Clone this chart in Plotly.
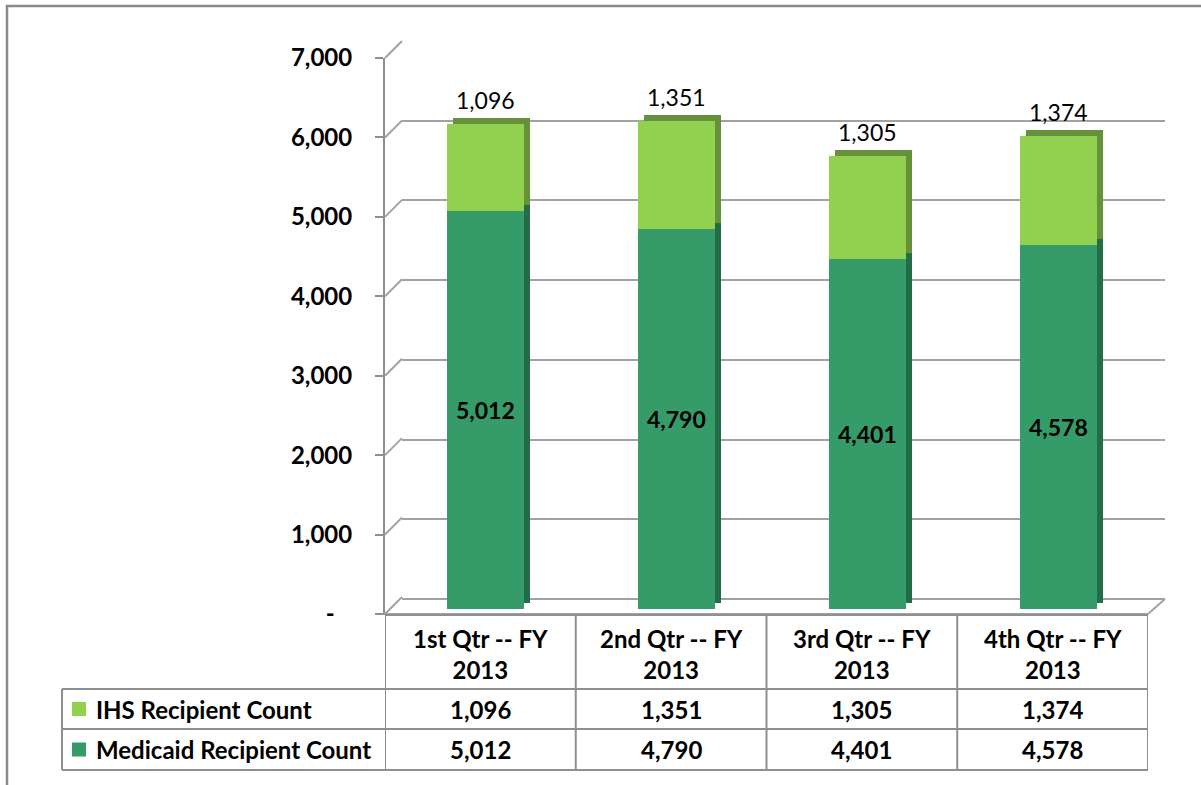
import plotly.graph_objects as go

# ---- data ----
categories = ["1st Qtr -- FY 2013", "2nd Qtr -- FY 2013", "3rd Qtr -- FY 2013", "4th Qtr -- FY 2013"]
ihs_counts = [1096, 1351, 1305, 1374]
medicaid_counts = [5012, 4790, 4401, 4578]
series_names = ["IHS Recipient Count", "Medicaid Recipient Count"]
tick_values = [0, 1000, 2000, 3000, 4000, 5000, 6000, 7000]
tick_labels = ["-\u00a0\u00a0\u00a0", "1,000", "2,000", "3,000", "4,000", "5,000", "6,000", "7,000"]

# ---- style ----
W, H = 1201, 785
C_IHS = "#92d050"
C_IHS_DARK = "#66913a"
C_MED = "#359b69"
C_MED_DARK = "#246c48"
GRID = "#a2a2a2"
LINE = "#8f8f8f"
FONT = "Lato"
FS = 24
FS_LBL = 23


def X(px):
    return px / W


def Y(py):
    return 1 - py / H


def fmt(v):
    return f"{v:,}"


totals = [a + b for a, b in zip(ihs_counts, medicaid_counts)]

fig = go.Figure()

# invisible traces to anchor front axis (xy) and back wall (x2y2)
for xa, ya in [("x", "y"), ("x2", "y2")]:
    fig.add_trace(go.Scatter(x=categories, y=medicaid_counts, mode="markers",
                             marker=dict(opacity=0), hoverinfo="skip",
                             showlegend=False, xaxis=xa, yaxis=ya))

# 3D depth (shadow) bars on x3y3
fig.add_trace(go.Bar(x=categories, y=medicaid_counts, marker=dict(color=C_MED_DARK, line=dict(width=0)),
                     width=0.404, xaxis="x3", yaxis="y3", showlegend=False, hoverinfo="skip"))
fig.add_trace(go.Bar(x=categories, y=ihs_counts, marker=dict(color=C_IHS_DARK, line=dict(width=0)),
                     width=0.404, xaxis="x3", yaxis="y3", showlegend=False, hoverinfo="skip"))
# front faces on x4y4
fig.add_trace(go.Bar(x=categories, y=medicaid_counts, name=series_names[1],
                     marker=dict(color=C_MED, line=dict(width=0)),
                     width=0.404, xaxis="x4", yaxis="y4", showlegend=False))
fig.add_trace(go.Bar(x=categories, y=ihs_counts, name=series_names[0],
                     marker=dict(color=C_IHS, line=dict(width=0)),
                     width=0.404, xaxis="x4", yaxis="y4", showlegend=False))

# geometry (pixels)
FRONT_L, FRONT_R, FRONT_B, FRONT_T = 385, 1148, 614, 58
DEPTH = 17
BAR_DX, BAR_DY = 5.5, 5
SH = 6

cat_axis = dict(type="category", range=[-0.5, 3.5], visible=False, fixedrange=True, automargin=False)

fig.update_layout(
    width=W, height=H, margin=dict(l=0, r=0, t=0, b=0, pad=0, autoexpand=False),
    paper_bgcolor="white", plot_bgcolor="rgba(0,0,0,0)",
    barmode="stack", bargap=0.5, showlegend=False,
    font=dict(family=FONT, size=FS, color="black"),
    xaxis=dict(cat_axis, domain=[X(FRONT_L), X(FRONT_R)], anchor="y"),
    yaxis=dict(domain=[Y(FRONT_B), Y(FRONT_T)], range=[0, 7000], anchor="x",
               tickvals=tick_values, ticktext=tick_labels,
               tickfont=dict(family=FONT, size=FS, weight="bold", color="black"),
               showline=True, linecolor=LINE, linewidth=2,
               ticks="outside", ticklen=8, tickwidth=2, tickcolor=LINE,
               ticklabelstandoff=18, automargin=False,
               showgrid=False, zeroline=False, fixedrange=True),
    xaxis2=dict(cat_axis, domain=[X(FRONT_L + DEPTH), X(FRONT_R + DEPTH)], anchor="y2"),
    yaxis2=dict(domain=[Y(FRONT_B - DEPTH + 2), Y(FRONT_T - DEPTH)], range=[0, 7000], anchor="x2",
                tickvals=tick_values, showticklabels=False, ticks="", automargin=False,
                showgrid=True, gridcolor=GRID, gridwidth=2,
                showline=False, zeroline=False, fixedrange=True),
    xaxis3=dict(cat_axis, domain=[X(FRONT_L + BAR_DX + SH), X(FRONT_R + BAR_DX + SH)], anchor="y3"),
    yaxis3=dict(domain=[Y(FRONT_B - BAR_DY - SH), Y(FRONT_T - BAR_DY - SH)], range=[0, 7000],
                anchor="x3", visible=False, fixedrange=True, automargin=False),
    xaxis4=dict(cat_axis, domain=[X(FRONT_L + BAR_DX), X(FRONT_R + BAR_DX)], anchor="y4"),
    yaxis4=dict(domain=[Y(FRONT_B - BAR_DY), Y(FRONT_T - BAR_DY)], range=[0, 7000],
                anchor="x4", visible=False, fixedrange=True, automargin=False),
)

shapes = []
lw = dict(color=GRID, width=2)


def yfront(v):
    return FRONT_B - (FRONT_B - FRONT_T) * v / 7000


# slanted connectors front axis -> back wall
for v in tick_values:
    yp = yfront(v)
    shapes.append(dict(type="line", xref="paper", yref="paper",
                       x0=X(FRONT_L), y0=Y(yp), x1=X(FRONT_L + DEPTH), y1=Y(yp - DEPTH), line=lw, layer="below"))
# floor
shapes.append(dict(type="line", xref="paper", yref="paper", x0=X(FRONT_L + DEPTH), y0=Y(FRONT_B - DEPTH + 2),
                   x1=X(FRONT_R + DEPTH), y1=Y(FRONT_B - DEPTH + 2), line=lw, layer="below"))
shapes.append(dict(type="line", xref="paper", yref="paper", x0=X(FRONT_R), y0=Y(FRONT_B),
                   x1=X(FRONT_R + DEPTH), y1=Y(FRONT_B - DEPTH + 2), line=lw, layer="below"))
shapes.append(dict(type="line", xref="paper", yref="paper", x0=X(FRONT_L - 8), y0=Y(FRONT_B),
                   x1=X(FRONT_R), y1=Y(FRONT_B), line=lw, layer="below"))

# ---- data table ----
T_LEFT = 62
ROW_Y = [615, 689, 729, 770]
tl = dict(color=LINE, width=2)
for i, yy in enumerate(ROW_Y):
    x0 = FRONT_L if i == 0 else T_LEFT
    shapes.append(dict(type="line", xref="paper", yref="paper", x0=X(x0), x1=X(FRONT_R),
                       y0=Y(yy), y1=Y(yy), line=tl))
shapes.append(dict(type="line", xref="paper", yref="paper", x0=X(T_LEFT), x1=X(T_LEFT),
                   y0=Y(ROW_Y[1]), y1=Y(ROW_Y[3]), line=tl))
for k in range(len(categories) + 1):
    shapes.append(dict(type="line", xref="x", yref="paper", x0=k - 0.5, x1=k - 0.5,
                       y0=Y(ROW_Y[0]), y1=Y(ROW_Y[3]), line=tl))

# legend keys
for r, col in enumerate([C_IHS, C_MED]):
    cy = (ROW_Y[r + 1] + ROW_Y[r + 2]) / 2
    shapes.append(dict(type="rect", xref="paper", yref="paper", x0=X(72), x1=X(86),
                       y0=Y(cy - 7), y1=Y(cy + 7), fillcolor=col, line=dict(width=0)))

# outer chart border
shapes.append(dict(type="rect", xref="paper", yref="paper", x0=X(7), y0=Y(6), x1=X(1230), y1=Y(820),
                   line=dict(color="#8a8a8a", width=2.5), fillcolor="rgba(0,0,0,0)"))

fig.update_layout(shapes=shapes)

ann = []
bold = dict(family=FONT, size=FS, weight="bold", color="black")
# header row
for c in categories:
    head, tail = c.rsplit(" ", 1)
    ann.append(dict(x=c, xref="x", y=Y((ROW_Y[0] + ROW_Y[1]) / 2 + 2), yref="paper",
                    xanchor="center", yanchor="middle",
                    text=f"{head}<br>{tail}", showarrow=False, font=bold))
# value rows
for r, vals in enumerate([ihs_counts, medicaid_counts]):
    cy = (ROW_Y[r + 1] + ROW_Y[r + 2]) / 2
    ann.append(dict(x=X(94), xref="paper", xanchor="left", y=Y(cy), yref="paper", yanchor="middle",
                    text=series_names[r], showarrow=False, font=bold))
    for c, v in zip(categories, vals):
        ann.append(dict(x=c, xref="x", y=Y(cy), yref="paper", xanchor="center", yanchor="middle",
                        text=fmt(v), showarrow=False, font=bold))

# bar data labels
for c, m, i, t in zip(categories, medicaid_counts, ihs_counts, totals):
    ann.append(dict(x=c, xref="x4", y=m / 2, yref="y4", yanchor="middle", text=fmt(m), showarrow=False,
                    font=dict(family=FONT, size=FS_LBL, weight="bold", color="black")))
    ann.append(dict(x=c, xref="x4", y=t, yref="y4", yanchor="bottom", yshift=8, text=fmt(i),
                    showarrow=False, font=dict(family=FONT, size=FS_LBL, color="black")))

fig.update_layout(annotations=ann)

fig.write_html("out.html", config={"responsive": False, "displayModeBar": False},
               post_script="document.body.style.margin='0';document.body.style.overflow='hidden';")
